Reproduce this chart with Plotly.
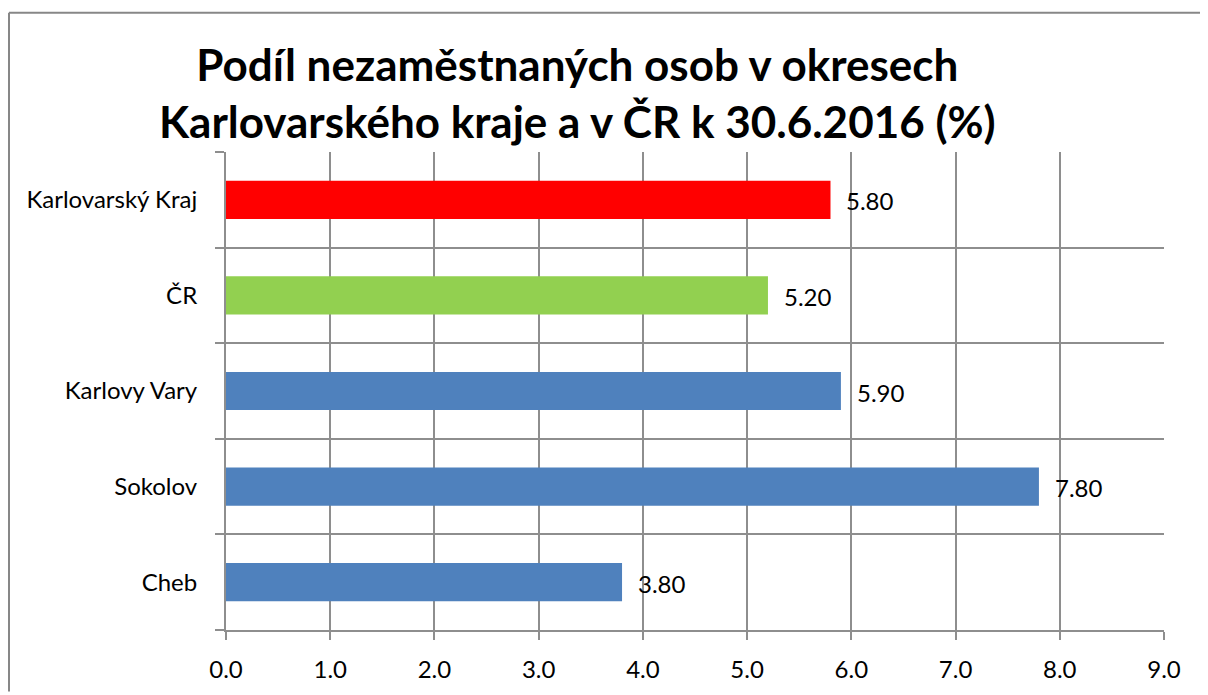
import plotly.graph_objects as go

categories = ["Cheb", "Sokolov", "Karlovy Vary", "ČR", "Karlovarský Kraj"]
values = [3.8, 7.8, 5.9, 5.2, 5.8]
bar_colors = ["#4F81BD", "#4F81BD", "#4F81BD", "#92D050", "#FF0000"]
value_labels = ["3.80", "7.80", "5.90", "5.20", "5.80"]
x_ticks = [0, 1, 2, 3, 4, 5, 6, 7, 8, 9]
title_lines = ["Podíl nezaměstnaných osob v okresech",
               "Karlovarského kraje a v ČR k 30.6.2016 (%)"]

OFF = 8  # page body margin
W, H = 1208 - OFF, 695 - OFF
L = 226 - OFF
T = 152 - OFF
R = W - (1164 - OFF)
B = H - (633 - OFF)
FONT = "Lato"
GRID = "#8e8e8e"


def px_x(p):
    return (p - OFF - L) / (W - L - R)


def px_y(p):
    return 1 - (p - OFF - T) / (H - T - B)


fig = go.Figure()
fig.add_trace(go.Bar(
    x=values, y=categories, orientation="h",
    marker=dict(color=bar_colors, line=dict(width=0)),
    width=0.4,
    hoverinfo="x+y",
))

for c, v, t in zip(categories, values, value_labels):
    fig.add_annotation(x=v, y=c, text=t, showarrow=False, xanchor="left",
                       yanchor="middle", xshift=14, yshift=-1,
                       font=dict(family=FONT, size=24, color="black"))

fig.add_annotation(xref="paper", yref="paper", x=px_x(577), y=px_y(149),
                   xanchor="center", yanchor="bottom", showarrow=False,
                   text="<b>" + "<br>".join(title_lines) + "</b>",
                   font=dict(family=FONT, size=44, color="black"),
                   align="center")

# outer chart frame (top and left edges visible)
fig.add_shape(type="line", xref="paper", yref="paper",
              x0=px_x(9), x1=px_x(1208), y0=px_y(12), y1=px_y(12),
              line=dict(color="#878787", width=2), layer="below")
fig.add_shape(type="line", xref="paper", yref="paper",
              x0=px_x(9), x1=px_x(9), y0=px_y(12), y1=px_y(695),
              line=dict(color="#878787", width=2), layer="below")

fig.update_layout(
    width=W, height=H,
    margin=dict(l=L, r=R, t=T, b=B, pad=0),
    paper_bgcolor="white", plot_bgcolor="white",
    showlegend=False,
    font=dict(family=FONT, size=24, color="black"),
    xaxis=dict(range=[0, 9], tickvals=x_ticks, tickformat=".1f",
               showgrid=True, gridcolor=GRID, gridwidth=2,
               showline=True, linecolor=GRID, linewidth=2,
               ticks="outside", ticklen=8, tickwidth=2, tickcolor=GRID,
               ticklabelstandoff=9,
               zeroline=False, fixedrange=True,
               tickfont=dict(family=FONT, size=24, color="black")),
    yaxis=dict(type="category", categoryorder="array", categoryarray=categories,
               range=[-0.5, 4.5], tickson="boundaries",
               showgrid=True, gridcolor=GRID, gridwidth=2,
               showline=True, linecolor=GRID, linewidth=2,
               ticks="outside", ticklen=9, tickwidth=2, tickcolor=GRID,
               ticklabelstandoff=22,
               zeroline=False, fixedrange=True,
               tickfont=dict(family=FONT, size=24, color="black")),
)

fig.write_html("out.html", config={"displayModeBar": False})
